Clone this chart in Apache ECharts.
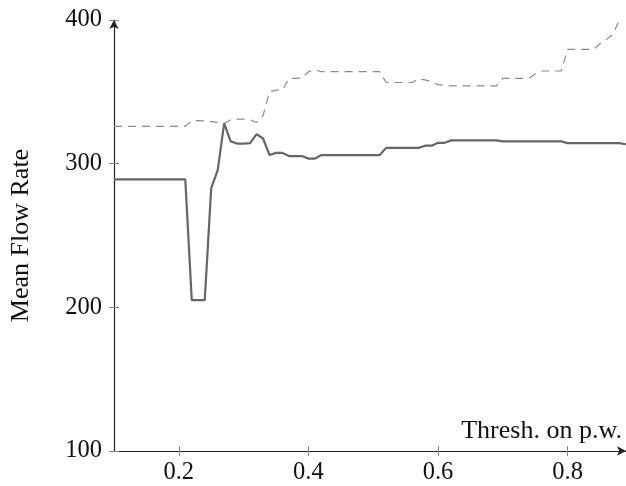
<!DOCTYPE html>
<html>
<head>
<meta charset="utf-8">
<script src="https://cdn.jsdelivr.net/npm/echarts@6/dist/echarts.min.js"></script>
<style>html,body{margin:0;padding:0;background:#fff}#c{width:626px;height:486px}</style>
</head>
<body>
<div id="c"></div>
<script>
// Threshold values (x axis)
const thresholds = [0.10,0.11,0.12,0.13,0.14,0.15,0.16,0.17,0.18,0.19,
  0.20,0.21,0.22,0.23,0.24,0.25,0.26,0.27,0.28,0.29,
  0.30,0.31,0.32,0.33,0.34,0.35,0.36,0.37,0.38,0.39,
  0.40,0.41,0.42,0.43,0.44,0.45,0.46,0.47,0.48,0.49,
  0.50,0.51,0.52,0.53,0.54,0.55,0.56,0.57,0.58,0.59,
  0.60,0.61,0.62,0.63,0.64,0.65,0.66,0.67,0.68,0.69,
  0.70,0.71,0.72,0.73,0.74,0.75,0.76,0.77,0.78,0.79,
  0.80,0.81,0.82,0.83,0.84,0.85,0.86,0.87,0.88,0.89];
// Solid line: mean flow rate
const meanFlow = [289,289,289,289,289,289,289,289,289,289,
  289,289,205,205,205,283,295.5,328,315.5,314,
  314,314.3,320.5,317.5,306,307.5,307.5,305.3,305.3,305.3,
  303.5,303.5,306,306,306,306,306,306,306,306,
  306,306,311,311,311,311,311,311,312.5,312.5,
  314.5,314.5,316.2,316.2,316.2,316.2,316.2,316.2,316.2,316.2,
  315.5,315.5,315.5,315.5,315.5,315.5,315.5,315.5,315.5,315.5,
  314.3,314.3,314.3,314.3,314.3,314.3,314.3,314.3,314.3,313.5];
// Dashed line
const upperFlow = [326,326,326,326,326,326,326,326,326,326,
  326,326,330,330,329.7,329.3,328.7,328,330.5,331,
  331,330.5,328.7,333.5,350,351.2,351.2,359.4,359.4,359.6,
  364,365.5,364,364,364,364,364,364,364,364,
  364,364,356.5,356.5,356.5,356.5,356.5,359,358.3,357,
  355,354.5,354.2,354.2,354.2,354.2,354.2,354.2,354.2,354.2,
  359.3,359.3,359.3,359.3,359.3,362.5,364.5,364.5,364.5,364.5,
  379.5,379.5,379.5,379.5,379.5,383.5,386.5,390,400.5,415];
const xTicks = [0.2,0.4,0.6,0.8];
const yTicks = [100,200,300,400];
const xName = 'Thresh. on p.w.';
const yName = 'Mean Flow Rate';

const FONT = '"Liberation Serif","DejaVu Serif",serif';
const FS = 24.5;
const FSN = 26;
const chart = echarts.init(document.getElementById('c'));
const pair = arr => thresholds.map((x,i)=>[x,arr[i]]);
const baseX = {type:'value',min:0.1,max:0.89,position:'bottom',splitLine:{show:false}};
const baseY = {type:'value',min:100,max:400,interval:100,position:'left',splitLine:{show:false}};
chart.setOption({
  animation:false,
  grid:{left:113,top:20,width:513,height:431,containLabel:false},
  xAxis:[
    Object.assign({},baseX,{
      axisLine:{show:true,lineStyle:{color:'#222',width:1.2},symbol:['none','arrow'],symbolSize:[7,9]},
      axisTick:{show:true,inside:false,length:5,lineStyle:{color:'#888',width:1},customValues:xTicks},
      axisLabel:{show:true,margin:9,fontFamily:FONT,fontSize:FS,color:'#111',customValues:xTicks}
    }),
    Object.assign({},baseX,{
      axisLine:{show:false},
      axisTick:{show:true,inside:true,length:5,lineStyle:{color:'#888',width:1},customValues:xTicks},
      axisLabel:{show:false}
    })
  ],
  yAxis:[
    Object.assign({},baseY,{
      name:yName,nameLocation:'middle',nameGap:80,nameRotate:90,
      nameTextStyle:{fontFamily:FONT,fontSize:FSN,color:'#111'},
      axisLine:{show:true,lineStyle:{color:'#222',width:1.2},symbol:['none','arrow'],symbolSize:[7,9]},
      axisTick:{show:true,inside:false,length:5,lineStyle:{color:'#888',width:1}},
      axisLabel:{show:true,margin:12,fontFamily:FONT,fontSize:FS,color:'#111',formatter:v=>yTicks.includes(v)?String(v):''}
    }),
    Object.assign({},baseY,{
      axisLine:{show:false},
      axisTick:{show:true,inside:true,length:5,lineStyle:{color:'#888',width:1}},
      axisLabel:{show:false}
    })
  ],
  graphic:[{type:'text',right:4,top:418,style:{text:xName,fontFamily:FONT,fontSize:FSN,fill:'#111'}}],
  series:[
    {type:'line',data:pair(upperFlow),symbol:'none',xAxisIndex:0,yAxisIndex:0,
     lineStyle:{color:'#8a8a8a',width:1.2,type:[8,6]},clip:true,z:2},
    {type:'line',data:pair(meanFlow),symbol:'none',xAxisIndex:0,yAxisIndex:0,
     lineStyle:{color:'#666',width:2.2},clip:true,z:3}
  ]
});
</script>
</body>
</html>
